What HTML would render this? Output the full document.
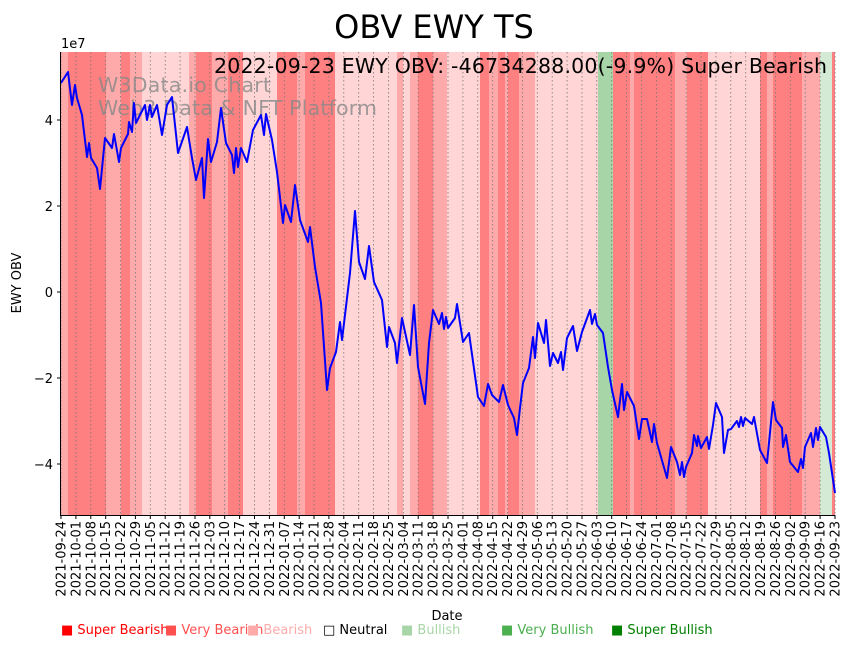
<!DOCTYPE html>
<html><head><meta charset="utf-8"><style>body{margin:0;background:#fff}svg{display:block}text{font-family:"DejaVu Sans","Liberation Sans",sans-serif}</style></head><body>
<svg width="851" height="646" xmlns="http://www.w3.org/2000/svg">
<rect width="851" height="646" fill="#fff"/>
<g>
<rect x="61" y="52" width="774" height="463" fill="#ffd5d5"/>
<rect x="61" y="52" width="7" height="463" fill="#ffaaaa"/>
<rect x="68" y="52" width="38" height="463" fill="#ff8080"/>
<rect x="106" y="52" width="15" height="463" fill="#ffaaaa"/>
<rect x="121" y="52" width="9" height="463" fill="#ff8080"/>
<rect x="130" y="52" width="12" height="463" fill="#ffaaaa"/>
<rect x="189" y="52" width="7" height="463" fill="#ffaaaa"/>
<rect x="196" y="52" width="16" height="463" fill="#ff8080"/>
<rect x="212" y="52" width="16" height="463" fill="#ffaaaa"/>
<rect x="228" y="52" width="15" height="463" fill="#ff8080"/>
<rect x="277" y="52" width="20" height="463" fill="#ff8080"/>
<rect x="297" y="52" width="8" height="463" fill="#ffaaaa"/>
<rect x="305" y="52" width="30" height="463" fill="#ff8080"/>
<rect x="397" y="52" width="6" height="463" fill="#ffaaaa"/>
<rect x="410" y="52" width="8" height="463" fill="#ffaaaa"/>
<rect x="418" y="52" width="15" height="463" fill="#ff8080"/>
<rect x="433" y="52" width="14" height="463" fill="#ffaaaa"/>
<rect x="480" y="52" width="9" height="463" fill="#ff8080"/>
<rect x="489" y="52" width="9" height="463" fill="#ffaaaa"/>
<rect x="498" y="52" width="7" height="463" fill="#ff8080"/>
<rect x="505" y="52" width="3" height="463" fill="#ffaaaa"/>
<rect x="508" y="52" width="11" height="463" fill="#ff8080"/>
<rect x="519" y="52" width="16" height="463" fill="#ffaaaa"/>
<rect x="598" y="52" width="15" height="463" fill="#a8d5a8"/>
<rect x="613" y="52" width="62" height="463" fill="#ff8080"/>
<rect x="630" y="52" width="4" height="463" fill="#ffaaaa"/>
<rect x="675" y="52" width="12" height="463" fill="#ffaaaa"/>
<rect x="687" y="52" width="21" height="463" fill="#ff8080"/>
<rect x="760" y="52" width="42" height="463" fill="#ff8080"/>
<rect x="767" y="52" width="6" height="463" fill="#ffaaaa"/>
<rect x="802" y="52" width="18" height="463" fill="#ffaaaa"/>
<rect x="820" y="52" width="12" height="463" fill="#d5ead5"/>
<rect x="832" y="52" width="3" height="463" fill="#ff8080"/>
</g>
<g stroke="#777" stroke-width="0.8" stroke-dasharray="1.5,2.5">
<path d="M61.0 52V515M75.9 52V515M90.8 52V515M105.7 52V515M120.5 52V515M135.4 52V515M150.3 52V515M165.2 52V515M180.1 52V515M195.0 52V515M209.8 52V515M224.7 52V515M239.6 52V515M254.5 52V515M269.4 52V515M284.3 52V515M299.2 52V515M314.0 52V515M328.9 52V515M343.8 52V515M358.7 52V515M373.6 52V515M388.5 52V515M403.3 52V515M418.2 52V515M433.1 52V515M448.0 52V515M462.9 52V515M477.8 52V515M492.7 52V515M507.5 52V515M522.4 52V515M537.3 52V515M552.2 52V515M567.1 52V515M582.0 52V515M596.8 52V515M611.7 52V515M626.6 52V515M641.5 52V515M656.4 52V515M671.3 52V515M686.2 52V515M701.0 52V515M715.9 52V515M730.8 52V515M745.7 52V515M760.6 52V515M775.5 52V515M790.3 52V515M805.2 52V515M820.1 52V515M835.0 52V515"/>
</g>
<text x="98" y="92" font-size="20.5" fill="#888" fill-opacity="0.8" textLength="173">W3Data.io Chart</text>
<text x="98" y="115" font-size="20.5" fill="#888" fill-opacity="0.8" textLength="279">Web3 Data &amp; NFT Platform</text>
<polyline fill="none" stroke="#0000ff" stroke-width="2" stroke-linejoin="round" points="61,83 68,72 72,105 75,85 77,98 82,115 87,157 89,143 91,158 97,168 100,189 105,138 112,148 114,134 119,162 121,148 128,134 129,122 132,132 134,103 136,123 145,105 147,120 150,105 152,117 157,105 162,135 167,105 172,97 178,153 187,127 192,158 196,180 202,158 204,198 208,139 211,162 217,142 221,108 226,143 232,155 234,173 236,148 238,167 241,148 247,162 253,130 261,115 264,135 266,114 272,140 277,172 283,223 285,205 291,222 295,185 300,220 308,242 310,227 315,267 321,303 327,390 330,368 336,352 340,322 342,340 350,273 355,211 359,262 365,279 369,246 374,282 382,300 387,347 389,327 395,343 397,363 402,318 410,355 414,305 418,367 425,404 429,343 433,310 439,324 442,313 444,329 446,317 448,328 455,318 457,304 463,342 469,333 478,397 484,406 488,384 492,395 499,402 503,385 508,405 514,418 517,435 520,408 523,383 529,368 533,337 535,358 538,323 544,343 546,320 550,366 553,353 558,363 561,352 563,370 567,338 573,326 577,351 582,332 590,310 592,324 595,314 597,325 603,333 608,367 612,390 618,417 622,384 624,410 627,392 634,406 639,439 642,419 647,419 652,442 654,424 657,443 667,478 671,447 677,462 680,475 682,462 684,477 686,467 692,453 694,435 697,446 698,436 701,448 707,437 709,449 713,425 716,403 722,417 724,453 728,430 731,429 737,421 739,427 741,417 743,426 745,418 752,424 754,417 760,450 767,463 773,402 776,420 782,428 783,447 786,435 790,462 798,472 801,459 803,468 805,447 811,433 813,447 816,428 818,440 820,427 826,437 829,453 835,493"/>
<g stroke="#000" stroke-width="1" fill="none">
<path d="M60.5 52V515.5H835"/>
<path d="M61 120h-4M61 206h-4M61 292h-4M61 378h-4M61 464h-4"/>
</g>
<g font-size="13" text-anchor="end" fill="#000">
<text x="53" y="125">4</text><text x="53" y="211">2</text><text x="53" y="297">0</text><text x="53" y="383">−2</text><text x="53" y="469">−4</text>
</g>
<text x="61" y="48" font-size="13">1e7</text>
<text x="21" y="283" font-size="13" text-anchor="middle" transform="rotate(-90 21 283)">EWY OBV</text>
<text x="434" y="38" font-size="32" text-anchor="middle">OBV EWY TS</text>
<text x="214" y="73" font-size="20.5" textLength="613">2022-09-23 EWY OBV: -46734288.00(-9.9%) Super Bearish</text>
<text x="447" y="620" font-size="13" text-anchor="middle">Date</text>
<g font-size="13" text-anchor="end">
<g stroke="#000"><path d="M61.0 515v4M75.9 515v4M90.8 515v4M105.7 515v4M120.5 515v4M135.4 515v4M150.3 515v4M165.2 515v4M180.1 515v4M195.0 515v4M209.8 515v4M224.7 515v4M239.6 515v4M254.5 515v4M269.4 515v4M284.3 515v4M299.2 515v4M314.0 515v4M328.9 515v4M343.8 515v4M358.7 515v4M373.6 515v4M388.5 515v4M403.3 515v4M418.2 515v4M433.1 515v4M448.0 515v4M462.9 515v4M477.8 515v4M492.7 515v4M507.5 515v4M522.4 515v4M537.3 515v4M552.2 515v4M567.1 515v4M582.0 515v4M596.8 515v4M611.7 515v4M626.6 515v4M641.5 515v4M656.4 515v4M671.3 515v4M686.2 515v4M701.0 515v4M715.9 515v4M730.8 515v4M745.7 515v4M760.6 515v4M775.5 515v4M790.3 515v4M805.2 515v4M820.1 515v4M835.0 515v4"/></g>
<text transform="translate(65.5,521) rotate(-90)">2021-09-24</text>
<text transform="translate(80.4,521) rotate(-90)">2021-10-01</text>
<text transform="translate(95.3,521) rotate(-90)">2021-10-08</text>
<text transform="translate(110.2,521) rotate(-90)">2021-10-15</text>
<text transform="translate(125.0,521) rotate(-90)">2021-10-22</text>
<text transform="translate(139.9,521) rotate(-90)">2021-10-29</text>
<text transform="translate(154.8,521) rotate(-90)">2021-11-05</text>
<text transform="translate(169.7,521) rotate(-90)">2021-11-12</text>
<text transform="translate(184.6,521) rotate(-90)">2021-11-19</text>
<text transform="translate(199.5,521) rotate(-90)">2021-11-26</text>
<text transform="translate(214.3,521) rotate(-90)">2021-12-03</text>
<text transform="translate(229.2,521) rotate(-90)">2021-12-10</text>
<text transform="translate(244.1,521) rotate(-90)">2021-12-17</text>
<text transform="translate(259.0,521) rotate(-90)">2021-12-24</text>
<text transform="translate(273.9,521) rotate(-90)">2021-12-31</text>
<text transform="translate(288.8,521) rotate(-90)">2022-01-07</text>
<text transform="translate(303.7,521) rotate(-90)">2022-01-14</text>
<text transform="translate(318.5,521) rotate(-90)">2022-01-21</text>
<text transform="translate(333.4,521) rotate(-90)">2022-01-28</text>
<text transform="translate(348.3,521) rotate(-90)">2022-02-04</text>
<text transform="translate(363.2,521) rotate(-90)">2022-02-11</text>
<text transform="translate(378.1,521) rotate(-90)">2022-02-18</text>
<text transform="translate(393.0,521) rotate(-90)">2022-02-25</text>
<text transform="translate(407.8,521) rotate(-90)">2022-03-04</text>
<text transform="translate(422.7,521) rotate(-90)">2022-03-11</text>
<text transform="translate(437.6,521) rotate(-90)">2022-03-18</text>
<text transform="translate(452.5,521) rotate(-90)">2022-03-25</text>
<text transform="translate(467.4,521) rotate(-90)">2022-04-01</text>
<text transform="translate(482.3,521) rotate(-90)">2022-04-08</text>
<text transform="translate(497.2,521) rotate(-90)">2022-04-15</text>
<text transform="translate(512.0,521) rotate(-90)">2022-04-22</text>
<text transform="translate(526.9,521) rotate(-90)">2022-04-29</text>
<text transform="translate(541.8,521) rotate(-90)">2022-05-06</text>
<text transform="translate(556.7,521) rotate(-90)">2022-05-13</text>
<text transform="translate(571.6,521) rotate(-90)">2022-05-20</text>
<text transform="translate(586.5,521) rotate(-90)">2022-05-27</text>
<text transform="translate(601.3,521) rotate(-90)">2022-06-03</text>
<text transform="translate(616.2,521) rotate(-90)">2022-06-10</text>
<text transform="translate(631.1,521) rotate(-90)">2022-06-17</text>
<text transform="translate(646.0,521) rotate(-90)">2022-06-24</text>
<text transform="translate(660.9,521) rotate(-90)">2022-07-01</text>
<text transform="translate(675.8,521) rotate(-90)">2022-07-08</text>
<text transform="translate(690.7,521) rotate(-90)">2022-07-15</text>
<text transform="translate(705.5,521) rotate(-90)">2022-07-22</text>
<text transform="translate(720.4,521) rotate(-90)">2022-07-29</text>
<text transform="translate(735.3,521) rotate(-90)">2022-08-05</text>
<text transform="translate(750.2,521) rotate(-90)">2022-08-12</text>
<text transform="translate(765.1,521) rotate(-90)">2022-08-19</text>
<text transform="translate(780.0,521) rotate(-90)">2022-08-26</text>
<text transform="translate(794.8,521) rotate(-90)">2022-09-02</text>
<text transform="translate(809.7,521) rotate(-90)">2022-09-09</text>
<text transform="translate(824.6,521) rotate(-90)">2022-09-16</text>
<text transform="translate(839.5,521) rotate(-90)">2022-09-23</text>
</g>
<g font-size="13">
<text x="61" y="634" fill="#ff0000">■ Super Bearish</text>
<text x="165" y="634" fill="#ff5050">■ Very Bearish</text>
<text x="247" y="634" fill="#ffaaaa">■ Bearish</text>
<text x="323" y="634" fill="#000">□ Neutral</text>
<text x="401" y="634" fill="#a8d5a8">■ Bullish</text>
<text x="501" y="634" fill="#4caf50">■ Very Bullish</text>
<text x="611" y="634" fill="#008000">■ Super Bullish</text>
</g>
</svg>
</body></html>
